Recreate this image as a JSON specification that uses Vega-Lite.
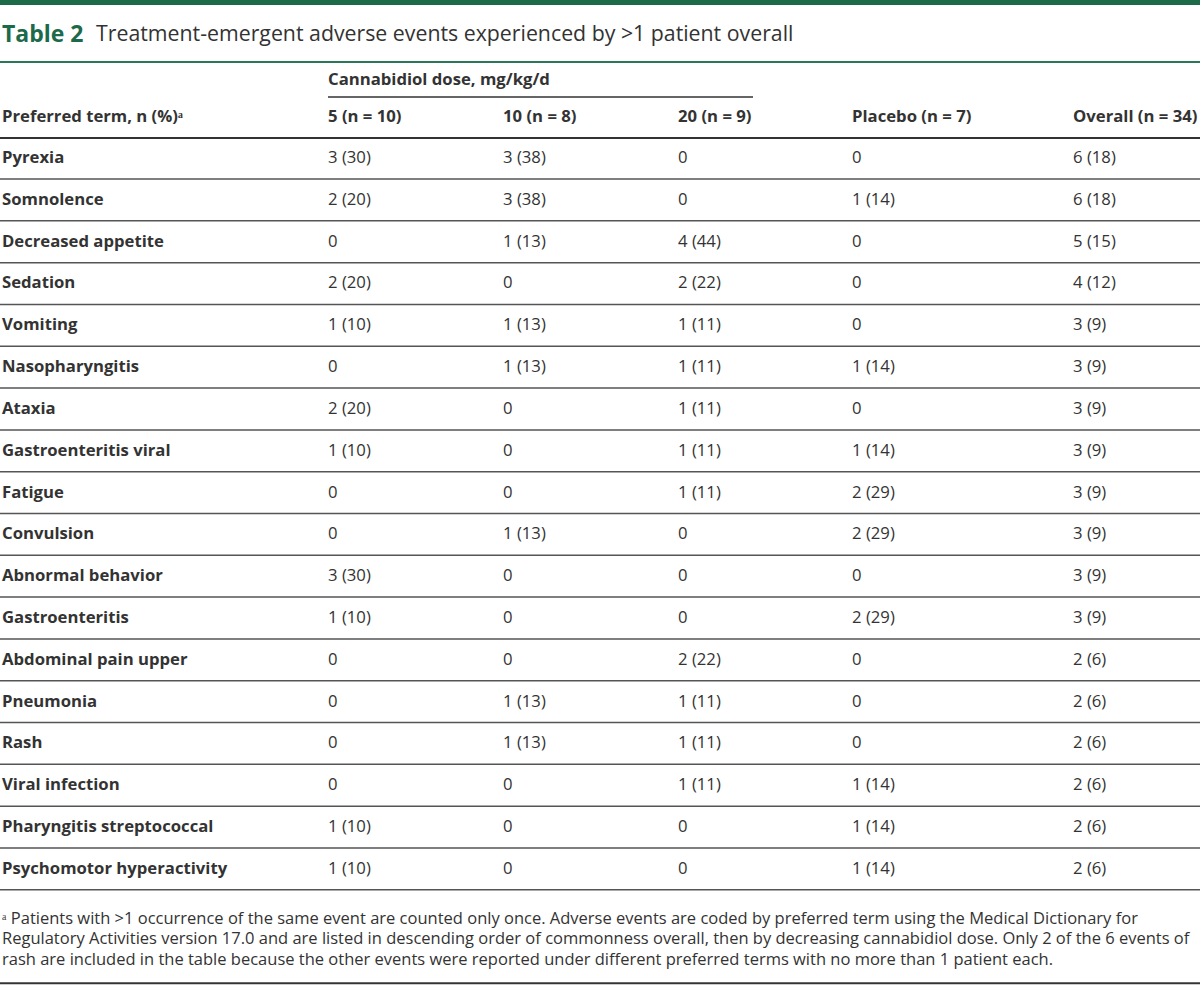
{
  "$schema": "https://vega.github.io/schema/vega-lite/v6.json",
  "width": 1200,
  "height": 985,
  "padding": 0,
  "autosize": {"type": "none"},
  "background": "white",
  "config": {"view": {"stroke": null}, "text": {"font": "Open Sans"}},
  "data": {"values": [{"k": 1}]},
  "datasets": {
    "rows": [
      {"row": 0, "term": "Pyrexia", "d5": "3 (30)", "d10": "3 (38)", "d20": "0", "placebo": "0", "overall": "6 (18)"},
      {"row": 1, "term": "Somnolence", "d5": "2 (20)", "d10": "3 (38)", "d20": "0", "placebo": "1 (14)", "overall": "6 (18)"},
      {"row": 2, "term": "Decreased appetite", "d5": "0", "d10": "1 (13)", "d20": "4 (44)", "placebo": "0", "overall": "5 (15)"},
      {"row": 3, "term": "Sedation", "d5": "2 (20)", "d10": "0", "d20": "2 (22)", "placebo": "0", "overall": "4 (12)"},
      {"row": 4, "term": "Vomiting", "d5": "1 (10)", "d10": "1 (13)", "d20": "1 (11)", "placebo": "0", "overall": "3 (9)"},
      {"row": 5, "term": "Nasopharyngitis", "d5": "0", "d10": "1 (13)", "d20": "1 (11)", "placebo": "1 (14)", "overall": "3 (9)"},
      {"row": 6, "term": "Ataxia", "d5": "2 (20)", "d10": "0", "d20": "1 (11)", "placebo": "0", "overall": "3 (9)"},
      {"row": 7, "term": "Gastroenteritis viral", "d5": "1 (10)", "d10": "0", "d20": "1 (11)", "placebo": "1 (14)", "overall": "3 (9)"},
      {"row": 8, "term": "Fatigue", "d5": "0", "d10": "0", "d20": "1 (11)", "placebo": "2 (29)", "overall": "3 (9)"},
      {"row": 9, "term": "Convulsion", "d5": "0", "d10": "1 (13)", "d20": "0", "placebo": "2 (29)", "overall": "3 (9)"},
      {"row": 10, "term": "Abnormal behavior", "d5": "3 (30)", "d10": "0", "d20": "0", "placebo": "0", "overall": "3 (9)"},
      {"row": 11, "term": "Gastroenteritis", "d5": "1 (10)", "d10": "0", "d20": "0", "placebo": "2 (29)", "overall": "3 (9)"},
      {"row": 12, "term": "Abdominal pain upper", "d5": "0", "d10": "0", "d20": "2 (22)", "placebo": "0", "overall": "2 (6)"},
      {"row": 13, "term": "Pneumonia", "d5": "0", "d10": "1 (13)", "d20": "1 (11)", "placebo": "0", "overall": "2 (6)"},
      {"row": 14, "term": "Rash", "d5": "0", "d10": "1 (13)", "d20": "1 (11)", "placebo": "0", "overall": "2 (6)"},
      {"row": 15, "term": "Viral infection", "d5": "0", "d10": "0", "d20": "1 (11)", "placebo": "1 (14)", "overall": "2 (6)"},
      {"row": 16, "term": "Pharyngitis streptococcal", "d5": "1 (10)", "d10": "0", "d20": "0", "placebo": "1 (14)", "overall": "2 (6)"},
      {"row": 17, "term": "Psychomotor hyperactivity", "d5": "1 (10)", "d10": "0", "d20": "0", "placebo": "1 (14)", "overall": "2 (6)"}
    ],
    "columns": [
      {"col": "term", "c": 0},
      {"col": "d5", "c": 1},
      {"col": "d10", "c": 2},
      {"col": "d20", "c": 3},
      {"col": "placebo", "c": 4},
      {"col": "overall", "c": 5}
    ],
    "headers": [
      {"row": -1, "c": 0, "text": "Preferred term, n (%)ᵃ"},
      {"row": -1, "c": 1, "text": "5 (n = 10)"},
      {"row": -1, "c": 2, "text": "10 (n = 8)"},
      {"row": -1, "c": 3, "text": "20 (n = 9)"},
      {"row": -1, "c": 4, "text": "Placebo (n = 7)"},
      {"row": -1, "c": 5, "text": "Overall (n = 34)"}
    ]
  },
  "encoding": {},
  "layer": [
    {
      "mark": {"type": "rule", "color": "#1d6a4a", "strokeWidth": 5},
      "encoding": {"y": {"datum": -3.72, "type": "quantitative", "scale": {"domain": [-3.78, 19.78], "reverse": true, "nice": false, "zero": false}, "axis": null}}
    },
    {
      "mark": {"type": "rule", "color": "#2b7757", "strokeWidth": 2},
      "encoding": {"y": {"datum": -2.3, "type": "quantitative", "scale": {"domain": [-3.78, 19.78], "reverse": true, "nice": false, "zero": false}, "axis": null}}
    },
    {
      "mark": {"type": "text", "align": "left", "baseline": "middle", "fontSize": 23, "fontWeight": "bold", "color": "#1d6a4a", "dy": 2},
      "encoding": {
        "x": {"datum": 0, "type": "quantitative", "scale": {"domain": [0, 1, 2, 3, 4, 5], "range": [2, 328, 503, 678, 852, 1073], "nice": false, "zero": false}, "axis": null},
        "y": {"datum": -3, "type": "quantitative", "scale": {"domain": [-3.78, 19.78], "reverse": true, "nice": false, "zero": false}, "axis": null},
        "text": {"value": "Table 2"}
      }
    },
    {
      "mark": {"type": "text", "align": "left", "baseline": "middle", "fontSize": 21.3, "color": "#333333", "dy": 2, "dx": 94},
      "encoding": {
        "x": {"datum": 0, "type": "quantitative", "scale": {"domain": [0, 1, 2, 3, 4, 5], "range": [2, 328, 503, 678, 852, 1073], "nice": false, "zero": false}, "axis": null},
        "y": {"datum": -3, "type": "quantitative", "scale": {"domain": [-3.78, 19.78], "reverse": true, "nice": false, "zero": false}, "axis": null},
        "text": {"value": "Treatment-emergent adverse events experienced by >1 patient overall"}
      }
    },
    {
      "mark": {"type": "text", "align": "left", "baseline": "middle", "fontSize": 16.7, "fontWeight": "bold", "color": "#333333", "dy": 6},
      "encoding": {
        "x": {"datum": 1, "type": "quantitative", "scale": {"domain": [0, 1, 2, 3, 4, 5], "range": [2, 328, 503, 678, 852, 1073], "nice": false, "zero": false}, "axis": null},
        "y": {"datum": -2, "type": "quantitative", "scale": {"domain": [-3.78, 19.78], "reverse": true, "nice": false, "zero": false}, "axis": null},
        "text": {"value": "Cannabidiol dose, mg/kg/d"}
      }
    },
    {
      "mark": {"type": "rule", "color": "#333333", "strokeWidth": 1.5, "x2Offset": -99},
      "encoding": {
        "x": {"datum": 1, "type": "quantitative", "scale": {"domain": [0, 1, 2, 3, 4, 5], "range": [2, 328, 503, 678, 852, 1073], "nice": false, "zero": false}, "axis": null},
        "x2": {"datum": 4},
        "y": {"datum": -1.46, "type": "quantitative", "scale": {"domain": [-3.78, 19.78], "reverse": true, "nice": false, "zero": false}, "axis": null}
      }
    },
    {
      "data": {"name": "headers"},
      "mark": {"type": "text", "align": "left", "baseline": "middle", "fontSize": 16.7, "fontWeight": "bold", "color": "#333333", "dy": 1},
      "encoding": {
        "x": {"field": "c", "type": "quantitative", "scale": {"domain": [0, 1, 2, 3, 4, 5], "range": [2, 328, 503, 678, 852, 1073], "nice": false, "zero": false}, "axis": null},
        "y": {"field": "row", "type": "quantitative", "scale": {"domain": [-3.78, 19.78], "reverse": true, "nice": false, "zero": false}, "axis": null},
        "text": {"field": "text"}
      }
    },
    {
      "mark": {"type": "rule", "color": "#333333", "strokeWidth": 2},
      "encoding": {"y": {"datum": -0.48, "type": "quantitative", "scale": {"domain": [-3.78, 19.78], "reverse": true, "nice": false, "zero": false}, "axis": null}}
    },
    {
      "data": {"name": "rows"},
      "mark": {"type": "rule", "color": "#555555", "strokeWidth": 1.5, "yOffset": 21},
      "encoding": {"y": {"field": "row", "type": "quantitative", "scale": {"domain": [-3.78, 19.78], "reverse": true, "nice": false, "zero": false}, "axis": null}}
    },
    {
      "data": {"name": "rows"},
      "mark": {"type": "text", "align": "left", "baseline": "middle", "fontSize": 16.7, "fontWeight": "bold", "color": "#333333"},
      "encoding": {
        "x": {"datum": 0, "type": "quantitative", "scale": {"domain": [0, 1, 2, 3, 4, 5], "range": [2, 328, 503, 678, 852, 1073], "nice": false, "zero": false}, "axis": null},
        "y": {"field": "row", "type": "quantitative", "scale": {"domain": [-3.78, 19.78], "reverse": true, "nice": false, "zero": false}, "axis": null},
        "text": {"field": "term"}
      }
    },
    {
      "data": {"name": "rows"},
      "transform": [
        {"fold": ["d5", "d10", "d20", "placebo", "overall"], "as": ["col", "val"]},
        {"lookup": "col", "from": {"data": {"name": "columns"}, "key": "col", "fields": ["c"]}}
      ],
      "mark": {"type": "text", "align": "left", "baseline": "middle", "fontSize": 16.7, "color": "#333333"},
      "encoding": {
        "x": {"field": "c", "type": "quantitative", "scale": {"domain": [0, 1, 2, 3, 4, 5], "range": [2, 328, 503, 678, 852, 1073], "nice": false, "zero": false}, "axis": null},
        "y": {"field": "row", "type": "quantitative", "scale": {"domain": [-3.78, 19.78], "reverse": true, "nice": false, "zero": false}, "axis": null},
        "text": {"field": "val"}
      }
    },
    {
      "mark": {"type": "text", "align": "left", "baseline": "top", "fontSize": 16.5, "color": "#333333", "lineBreak": "\n", "lineHeight": 20.5},
      "encoding": {
        "x": {"datum": 0, "type": "quantitative", "scale": {"domain": [0, 1, 2, 3, 4, 5], "range": [2, 328, 503, 678, 852, 1073], "nice": false, "zero": false}, "axis": null},
        "y": {"datum": 18, "type": "quantitative", "scale": {"domain": [-3.78, 19.78], "reverse": true, "nice": false, "zero": false}, "axis": null},
        "text": {"value": "ᵃ Patients with >1 occurrence of the same event are counted only once. Adverse events are coded by preferred term using the Medical Dictionary for\nRegulatory Activities version 17.0 and are listed in descending order of commonness overall, then by decreasing cannabidiol dose. Only 2 of the 6 events of\nrash are included in the table because the other events were reported under different preferred terms with no more than 1 patient each."}
      }
    },
    {
      "mark": {"type": "rule", "color": "#333333", "strokeWidth": 2},
      "encoding": {"y": {"datum": 19.74, "type": "quantitative", "scale": {"domain": [-3.78, 19.78], "reverse": true, "nice": false, "zero": false}, "axis": null}}
    }
  ]
}
